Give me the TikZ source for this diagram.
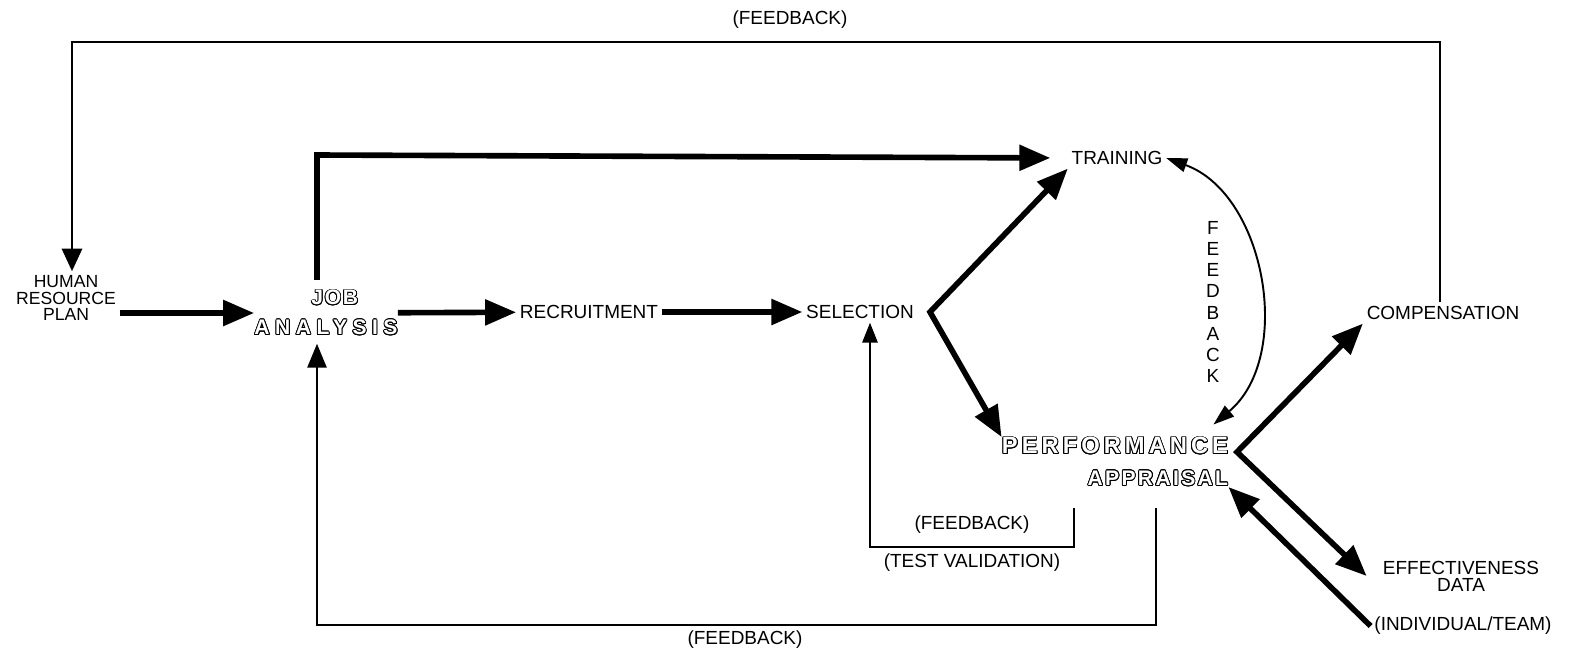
\documentclass[tikz,border=0pt]{standalone}
\usepackage{fontspec}
\setmainfont{Liberation Sans}
\newfontfamily\hollowfont{Liberation Sans Bold}
\usepackage{contour}
\usetikzlibrary{arrows.meta}
\contourlength{0.5pt}
\newcommand{\hollow}[3]{{\fontsize{#1}{#1}\hollowfont\addfontfeature{LetterSpace=#2}\color{white}\contour{black}{#3}}}

\begin{document}
\begin{tikzpicture}[
    x=0.02cm, y=-0.02cm,
    lbl/.style={font=\fontsize{10.8}{11}\selectfont, align=center, inner sep=2pt},
    heavy/.style={draw, line width=3.2pt, -{Triangle[length=0.62cm, width=0.5cm]}},
    feed/.style={draw, line width=1.6pt, -{Triangle[length=0.48cm, width=0.38cm]}},
    curve/.style={draw, line width=1.1pt, {Triangle[length=0.42cm, width=0.28cm]}-{Triangle[length=0.42cm, width=0.28cm]}}
]
\useasboundingbox (0,0) rectangle (1570,654);

% Define nodes
\node[lbl, font=\fontsize{10}{9.6}\selectfont] (hrp) at (66,298) {HUMAN\\RESOURCE\\PLAN};
\node[lbl, inner sep=0pt] (job) at (326,313) {\hspace{10pt}\hollow{12}{8}{JOB}\\[6pt]\hollow{12}{26}{ANALYSIS}};
\node[lbl] (rec) at (589,312) {RECRUITMENT};
\node[lbl] (sel) at (860,312) {SELECTION};
\node[lbl] (train) at (1117,158) {TRAINING};
\node[lbl, align=right, inner sep=0pt] (perf) at (1115,462) {\hollow{13.5}{17}{PERFORMANCE}\\[7pt]\hollow{12}{11}{APPRAISAL}\hspace{6pt}};
\node[lbl] (comp) at (1443,313) {COMPENSATION};
\node[lbl, font=\fontsize{10.8}{9.8}\selectfont] (eff) at (1461,576) {EFFECTIVENESS\\DATA};
\node[lbl] (ind) at (1463,626) {(INDIVIDUAL/TEAM)};
\node[lbl, font=\fontsize{10.8}{12}\selectfont] (fbcurve) at (1213,302) {F\\E\\E\\D\\B\\A\\C\\K};
\node[lbl] (fbtop) at (790,20) {(FEEDBACK)};
\node[lbl] (fbtest) at (972,525) {(FEEDBACK)};
\node[lbl] (testval) at (972,563) {(TEST VALIDATION)};
\node[lbl] (fbbot) at (745,640) {(FEEDBACK)};

% Define corners
\coordinate (topl) at (72,42);
\coordinate (topr) at (1440,42);
\coordinate (jobtop) at (317,155);
\coordinate (forksel) at (930,312);
\coordinate (forkperf) at (1237,452);
\coordinate (tvend) at (1074,508);
\coordinate (tvr) at (1074,547);
\coordinate (tvl) at (870,547);
\coordinate (botend) at (1156,508);
\coordinate (botr) at (1156,625);
\coordinate (botl) at (317,625);

% Define edges
\path[heavy] (hrp.east |- job) -- (job); % plan -> job analysis
\path[heavy] (job) -- (rec);
\path[heavy] (rec) -- (sel);
\path[heavy, shorten <=0.2cm, shorten >=0.35cm] (job.north -| jobtop) -- (jobtop) -- (train.west);
\path[heavy, {Triangle[length=0.62cm, width=0.5cm]}-{Triangle[length=0.62cm, width=0.5cm]}] (train.south west) -- (forksel) -- (perf.north west);
\path[heavy, {Triangle[length=0.62cm, width=0.5cm]}-{Triangle[length=0.62cm, width=0.5cm]}] (comp.south west) -- (forkperf) -- ([xshift=-0.25cm]eff.west);
\path[heavy] (ind.west) -- (perf.south east); % individual/team
\path[curve] (train.east) to[bend left=60] ([xshift=-0.3cm, yshift=0.25cm]perf.north east); % training <-> appraisal

% Feedback loops
\path[feed, -{Triangle[length=0.45cm, width=0.4cm]}] (comp.north -| topr) -- (topr) -- (topl) -- (hrp.north -| topl);
\path[feed, -{Triangle[length=0.4cm, width=0.3cm]}] (tvend) -- (tvr) -- (tvl) -- (tvl |- sel.south);
\path[feed, shorten >=0.15cm] (botend) -- (botr) -- (botl) -- (botl |- job.south);

\end{tikzpicture}
\end{document}
